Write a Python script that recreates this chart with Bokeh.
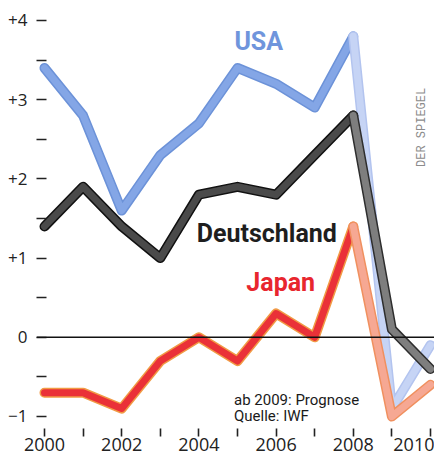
from bokeh.plotting import figure
from bokeh.models import Range1d, FixedTicker, Span, Label
from bokeh.embed import file_html
from bokeh.resources import INLINE

# ---- data (consumer price change, % vs. previous year) ----
years = [2000, 2001, 2002, 2003, 2004, 2005, 2006, 2007, 2008, 2009, 2010]
usa = [3.4, 2.8, 1.6, 2.3, 2.7, 3.4, 3.2, 2.9, 3.8, -0.9, -0.1]
germany = [1.4, 1.9, 1.4, 1.0, 1.8, 1.9, 1.8, 2.3, 2.8, 0.1, -0.4]
japan = [-0.7, -0.7, -0.9, -0.3, 0.0, -0.3, 0.3, 0.0, 1.4, -1.0, -0.6]
forecast_from = 2008  # last actual year; forecast (lighter) from here to 2010

y_ticks = [-1, -0.5, 0, 0.5, 1, 1.5, 2, 2.5, 3, 3.5, 4]
y_labels = {-1: "\u22121", 0: "0", 1: "+1", 2: "+2", 3: "+3", 4: "+4"}
x_label_years = [2000, 2002, 2004, 2006, 2008, 2010]

TICK_FONT = "Open Sans"
LABEL_FONT = "Roboto"

p = figure(width=434, height=462, output_backend="svg", toolbar_location=None,
           x_range=Range1d(1999.793, 2010.104), y_range=Range1d(-1.253, 4.227),
           min_border_left=36, min_border_right=0, min_border_top=2,
           min_border_bottom=26)
p.xgrid.visible = False
p.ygrid.visible = False
p.outline_line_color = None
p.background_fill_color = "white"
p.border_fill_color = "white"

# y axis
p.yaxis.ticker = FixedTicker(ticks=y_ticks)
p.yaxis.major_label_overrides = {t: y_labels.get(t, "") for t in y_ticks}
p.yaxis.axis_line_color = None
p.yaxis.major_tick_in = 10
p.yaxis.major_tick_out = 0
p.yaxis.major_tick_line_width = 1.6
p.yaxis.major_tick_line_color = "#222222"
p.yaxis.minor_tick_line_color = None
p.yaxis.major_label_standoff = 9
p.yaxis.major_label_text_font = TICK_FONT
p.yaxis.major_label_text_font_size = "17px"
p.yaxis.major_label_text_color = "#222222"

# x axis
p.xaxis.ticker = FixedTicker(ticks=years)
p.xaxis.major_label_overrides = {y: (str(y) if y in x_label_years else "") for y in years}
p.xaxis.axis_line_color = None
p.xaxis.major_tick_in = 8
p.xaxis.major_tick_out = 0
p.xaxis.major_tick_line_width = 1.6
p.xaxis.major_tick_line_color = "#222222"
p.xaxis.minor_tick_line_color = None
p.xaxis.major_label_standoff = 1
p.xaxis.major_label_text_font = TICK_FONT
p.xaxis.major_label_text_font_size = "18px"
p.xaxis.major_label_text_color = "#222222"

# zero line
p.add_layout(Span(location=0, dimension="width", line_color="#111111", line_width=1.5))

i = years.index(forecast_from)
act_x, fc_x = years[:i + 1], years[i:]


def series(vals, edge, core, fc_edge, fc_core, w_edge=10, w_core=7):
    kw = dict(line_cap="round", line_join="round")
    p.line(act_x, vals[:i + 1], line_color=edge, line_width=w_edge, **kw)
    p.line(act_x, vals[:i + 1], line_color=core, line_width=w_core, **kw)
    p.line(fc_x, vals[i:], line_color=fc_edge, line_width=w_edge, **kw)
    p.line(fc_x, vals[i:], line_color=fc_core, line_width=w_core, **kw)


series(usa, "#6c92d8", "#84a6e6", "#b3c4ef", "#c6d4f5")
series(germany, "#111111", "#4a4a4a", "#2e2e2e", "#7e7e7e")
series(japan, "#f19a45", "#ea3138", "#f0905f", "#f6a893")

# series labels
def lab(x, y, text, color):
    p.add_layout(Label(x=x, y=y, text=text, text_font=LABEL_FONT, text_font_style="bold",
                       text_font_size="25px", text_color=color, text_align="center",
                       text_baseline="middle"))


lab(2005.55, 3.73, "USA", "#6f95dc")
lab(2005.76, 1.31, "Deutschland", "#1e1e1e")
lab(2006.12, 0.69, "Japan", "#e8262e")

# notes
p.add_layout(Label(x=2004.91, y=-0.79, text="ab 2009: Prognose", text_font=LABEL_FONT,
                   text_font_size="15px", text_color="#1a1a1a", text_align="left",
                   text_baseline="middle"))
p.add_layout(Label(x=2004.91, y=-1.0, text="Quelle: IWF", text_font=LABEL_FONT,
                   text_font_size="15px", text_color="#1a1a1a", text_align="left",
                   text_baseline="middle"))
p.add_layout(Label(x=2009.78, y=2.65, text="DER SPIEGEL", text_font="Liberation Mono",
                   text_font_size="12px", text_color="#8c8c8c", text_align="center",
                   text_baseline="middle", angle=1.5708))

open("out.html", "w").write(file_html(p, INLINE))
